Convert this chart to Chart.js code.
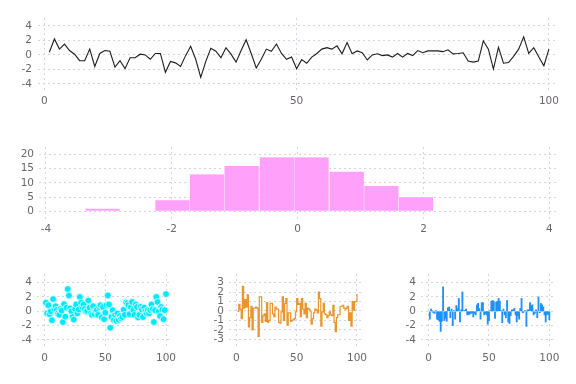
<!DOCTYPE html>
<html>
<head>
<meta charset="utf-8">
<script src="https://cdn.jsdelivr.net/npm/chart.js@4"></script>
<style>
  body { margin: 0; background: #fff; width: 576px; height: 384px; overflow: hidden; }
  .box { position: absolute; }
</style>
</head>
<body>
<div class="box" style="left:0;top:0;width:576px;height:112px"><canvas id="linePlot"></canvas></div>
<div class="box" style="left:0;top:130px;width:576px;height:112px"><canvas id="histPlot"></canvas></div>
<div class="box" style="left:0;top:260px;width:192px;height:124px"><canvas id="scatterPlot"></canvas></div>
<div class="box" style="left:192px;top:260px;width:192px;height:124px"><canvas id="stepPlot"></canvas></div>
<div class="box" style="left:384px;top:260px;width:192px;height:124px"><canvas id="stickPlot"></canvas></div>
<script>
// wartości
const lineValues = [0.37, 2.2, 0.8, 1.5, 0.6, 0.1, -0.8, -0.8, 0.8, -1.6,
  0.2, 0.6, 0.5, -1.7, -0.8, -1.9, -0.4, -0.4, 0.1, 0.0,
  -0.6, 0.2, 0.2, -2.4, -0.9, -1.1, -1.6, -0.1, 1.2, -0.6,
  -3.1, -0.9, 0.9, 0.5, -0.4, 1.0, 0.1, -1.0, 0.6, 2.1,
  0.2, -1.8, -0.6, 0.8, 0.5, 1.5, 0.2, -0.6, -0.3, -1.9,
  -0.65, -1.15, -0.3, 0.2, 0.8, 1.0, 0.8, 1.25, 0.15, 1.7,
  0.15, 0.55, 0.3, -0.7, 0.0, 0.15, -0.1, 0.0, -0.3, 0.2,
  -0.3, 0.2, -0.1, 0.6, 0.3, 0.55, 0.55, 0.55, 0.45, 0.7,
  0.15, 0.2, 0.3, -0.85, -1.0, -0.85, 1.95, 0.8, -1.95, 1.05,
  -1.15, -1.05, -0.2, 0.8, 2.5, 0.2, 1.0, -0.3, -1.5, 0.8];

const histCenters = [-3.10, -2.55, -1.99, -1.44, -0.89, -0.33, 0.22, 0.78, 1.33, 1.88];
const histCounts = [1, 0, 4, 13, 16, 19, 19, 14, 9, 5];

const scatterValues = [1.2, -0.3, 0.85, -0.4, 0.0, -1.25, 1.7, 0.3, 0.7, 0.2,
  -0.3, -0.5, 0.3, 0.1, -1.5, 1.0, -0.75, 0.5, 3.1, 2.2,
  0.4, 0.0, -0.8, -1.15, 0.3, 0.95, -0.3, 0.25, 2.0, 1.2,
  0.6, 0.95, 0.3, -0.05, 0.05, 1.5, 0.5, -0.3, -0.5, 0.7,
  -0.4, 0.1, 0.2, -0.5, 0.6, 0.85, -0.85, 0.6, -1.1, -0.2,
  0.85, 2.2, 0.95, -2.3, -0.8, 0.15, -1.2, -0.5, -1.35, -0.3,
  -1.2, -0.65, -1.0, -0.8, 0.2, -0.5, 1.25, 1.1, 0.85, -0.4,
  0.6, 1.3, 0.15, -0.5, 0.95, 0.6, -0.85, -0.5, 0.6, 0.25,
  -0.8, 0.5, 0.0, -0.3, 0.15, -0.3, 0.15, 0.95, 0.3, -1.5,
  0.15, 2.0, 1.3, 0.0, -0.65, 0.6, 0.25, -1.1, 0.15, 2.4];

const stepValues = [-0.05, 0.7, 0.2, -0.8, 2.6, 0.3, 1.2, 0.4, 1.7, -1.7,
  -0.7, 0.5, -2.0, 0.3, 0.3, 0.4, 0.3, -2.7, 1.5, 1.5,
  -1.2, -0.5, -0.3, -1.1, 0.9, -1.2, -1.0, 0.8, 0.8, -0.3,
  -0.6, 0.4, 0.2, 0.2, -1.2, -1.3, -0.1, 1.5, -1.0, 0.8,
  1.3, -1.5, -0.2, -0.2, -1.1, -1.0, -0.9, -0.8, -0.1, 1.3,
  0.7, 0.8, -0.6, 1.3, 0.2, -0.3, 0.8, -0.7, 0.3, 0.2,
  0.0, -1.4, -0.8, -0.2, 0.2, 0.1, -0.2, 2.0, 1.3, -1.6,
  -0.1, 0.8, -0.3, -0.4, -0.7, -0.5, -0.1, -0.4, -0.5, 0.6,
  -1.2, -2.2, -0.7, -0.4, -0.4, 0.5, 0.5, 0.6, 0.3, 0.2,
  0.3, 0.5, -1.0, -0.2, -1.6, 1.0, 0.1, 1.0, 1.0, 1.8];

const stickValues = [-1.1, 0.3, 0.1, -0.2, -0.3, 0.1, -1.1, -1.2, -1.4, -2.8,
  -1.4, 3.4, -1.3, -1.0, -1.4, 0.5, 0.6, -0.9, 0.3, -2.0,
  0.1, -1.1, 0.8, 0.4, 1.8, -1.5, 0.2, 2.7, 0.1, 0.1,
  0.3, -0.5, -0.5, -0.4, -0.3, -0.2, -0.8, -0.3, -0.5, 0.9,
  1.1, 0.4, -1.1, 1.2, 1.2, -0.5, -0.3, -0.5, -1.8, -1.3,
  0.1, 1.4, 1.5, 1.4, -1.0, 1.3, 1.4, 1.8, 1.4, 0.1,
  -1.6, 0.3, -0.5, -0.9, 1.5, -1.5, -1.7, -0.6, 0.2, 0.2,
  0.4, -0.5, -1.5, -0.6, -1.1, 0.4, 1.8, -0.2, -0.1, 0.1,
  -2.1, 0.2, 0.2, 1.2, 0.8, 0.9, -0.5, -0.3, 0.2, -0.9,
  2.0, -0.2, 1.1, 0.9, 0.6, -0.5, -1.5, -0.5, -0.4, -1.2];

const ticksX100 = [0, 50, 100];
const ticksY4 = [-4, -2, 0, 2, 4];
const ticksHistX = [-4, -2, 0, 2, 4];
const ticksHistY = [0, 5, 10, 15, 20];
const ticksY3 = [-3, -2, -1, 0, 1, 2, 3];

const gridColor = "rgb(212,212,228)";
const tickColor = "#6c6570";

Chart.defaults.font.family = "DejaVu Sans";
Chart.defaults.font.size = 10.5;
Chart.defaults.color = tickColor;
Chart.defaults.animation = false;
Chart.defaults.plugins.legend.display = false;
Chart.defaults.plugins.tooltip.enabled = false;

var toPoints = arr => arr.map((v, i) => ({x: i + 1, y: v}));

// oś liniowa o stałych podziałkach i stałej grubości
function axis(min, max, ticks, size, pad) {
    return {
        type: "linear",
        min: min,
        max: max,
        offset: false,
        grid: {color: gridColor, drawTicks: false, offset: false},
        border: {display: false, dash: [2, 3]},
        ticks: {color: tickColor, padding: pad, autoSkip: false, maxRotation: 0},
        afterBuildTicks: s => { s.ticks = ticks.map(v => ({value: v})); },
        afterFit: s => {
            if (s.isHorizontal()) s.height = size;
            else s.width = size;
        }
    };
}

function options(x, y, padding) {
    return {
        responsive: true,
        maintainAspectRatio: false,
        layout: {padding: padding},
        scales: {x: x, y: y}
    };
}

// wykres liniowy
new Chart("linePlot", {
    type: "line",
    data: {datasets: [{
        data: toPoints(lineValues),
        borderColor: "#1c1c1c",
        borderWidth: 1.1,
        pointRadius: 0,
        tension: 0
    }]},
    options: options(
        axis(-1.25, 101.6, ticksX100, 20, 5),
        axis(-4.85, 5.1, ticksY4, 38, 6),
        {top: 18, right: 19, bottom: 2, left: 0}
    )
});

// histogram
new Chart("histPlot", {
    type: "bar",
    data: {datasets: [{
        data: histCenters.map((c, i) => ({x: c, y: histCounts[i]})),
        backgroundColor: "rgb(255,160,250)",
        borderColor: "rgba(255,235,254,0.9)",
        borderWidth: 0.6,
        barPercentage: 1,
        categoryPercentage: 1
    }]},
    options: options(
        axis(-4.11, 4.12, ticksHistX, 20, 3),
        axis(-3.05, 22.6, ticksHistY, 39, 5),
        {top: 17, right: 19, bottom: 2, left: 0}
    )
});

// punkty
new Chart("scatterPlot", {
    type: "scatter",
    data: {datasets: [{
        data: toPoints(scatterValues),
        backgroundColor: "rgb(0,234,255)",
        borderColor: "#ffffff",
        borderWidth: 0.7,
        pointRadius: 3.4
    }]},
    options: options(
        axis(-6.3, 104.1, ticksX100, 20, 3),
        axis(-5.26, 5.2, ticksY4, 37, 5),
        {top: 14, right: 21, bottom: 15, left: 0}
    )
});

// schodki
new Chart("stepPlot", {
    type: "line",
    data: {datasets: [{
        data: toPoints(stepValues),
        borderColor: "rgba(232,138,22,0.9)",
        borderWidth: 1.2,
        pointRadius: 0,
        stepped: true
    }]},
    options: options(
        axis(-6.1, 105.0, ticksX100, 20, 3),
        axis(-4.03, 3.92, ticksY3, 37, 5),
        {top: 14, right: 21, bottom: 15, left: 0}
    )
});

// słupki
new Chart("stickPlot", {
    type: "bar",
    data: {datasets: [{
        data: toPoints(stickValues),
        backgroundColor: "rgb(30,144,255)",
        barThickness: 1.2
    }]},
    options: options(
        axis(-6.3, 104.7, ticksX100, 20, 3),
        axis(-5.26, 5.2, ticksY4, 37, 5),
        {top: 14, right: 21, bottom: 15, left: 0}
    )
});
</script>
</body>
</html>
